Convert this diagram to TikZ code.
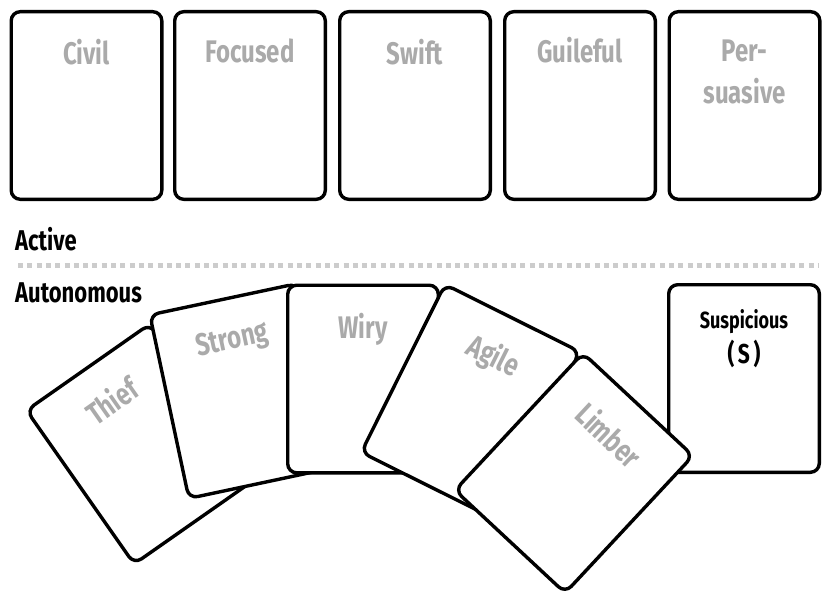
\documentclass[tikz,border=0pt]{standalone}
\usepackage{fontspec}
\setmainfont{Fira Sans}
\usetikzlibrary{calc}
\definecolor{lblgray}{HTML}{AAAAAA}
\definecolor{dashgray}{HTML}{CCCCCC}
\newcommand\tallt[1]{\scalebox{1}[1.3]{#1}}
\tikzset{
  card/.style={draw=black, line width=3.4pt, rounded corners=9pt, fill=white,
    minimum width=150.6pt, minimum height=187.6pt, inner sep=0pt},
  graylbl/.style={text=lblgray, font=\bfseries\fontsize{24}{30}\selectfont, inner sep=0pt},
  blacklbl/.style={text=black, font=\bfseries\fontsize{22}{24}\selectfont, inner sep=0pt},
  susplbl/.style={text=black, font=\bfseries\fontsize{18}{22}\selectfont, inner sep=0pt},
  sepline/.style={dashgray, line width=5pt, dash pattern=on 5pt off 4.3pt},
}
\begin{document}
\begin{tikzpicture}[x=1pt,y=1pt]
\useasboundingbox (0,0) rectangle (832,-602);

% top row
\node[card] (civil) at (86.5,-105.5) {};
\node[graylbl] (civillbl) at ($(civil.center)+(0,53)$) {\tallt{Civil}};
\node[card] (focused) at (250,-105.5) {};
\node[graylbl] (focusedlbl) at ($(focused.center)+(0,55)$) {\tallt{Focused}};
\node[card] (swift) at (415,-105.5) {};
\node[graylbl] (swiftlbl) at ($(swift.center)+(0,53)$) {\tallt{Swift}};
\node[card] (guileful) at (580,-105.5) {};
\node[graylbl] (guilefullbl) at ($(guileful.center)+(0,55)$) {\tallt{Guileful}};
\node[card] (persuasive) at (744.5,-105.5) {};
\node[graylbl, align=center, font=\bfseries\fontsize{24}{42}\selectfont] (persuasivelbl)
  at ($(persuasive.center)+(0,34)$) {\tallt{Per-}\\\tallt{suasive}};

% section labels and separator
\node[blacklbl, anchor=base west] (active) at (15,-250) {\tallt{Active}};
\coordinate (sepl) at (18,-265);
\coordinate (sepr) at (818,-265);
\draw[sepline] (sepl) -- (sepr);
\node[blacklbl, anchor=base west] (autonomous) at (15,-302) {\tallt{Autonomous}};

% bottom fan
\node[card, rotate=35] (thief) at (142,-444) {};
\node[graylbl, rotate=35] (thieflbl) at ($(thief.center)+(125:53)$) {\tallt{Thief}};
\node[card, rotate=12] (strong) at (243,-391) {};
\node[graylbl, rotate=12] (stronglbl) at ($(strong.center)+(102:51)$) {\tallt{Strong}};
\node[card] (wiry) at (363,-379) {};
\node[graylbl] (wirylbl) at ($(wiry.center)+(0,50)$) {\tallt{Wiry}};
\node[card, rotate=-26.5] (agile) at (470.5,-402) {};
\node[graylbl, rotate=-26.5] (agilelbl) at ($(agile.center)+(63.5:50)$) {\tallt{Agile}};
\node[card] (suspicious) at (744,-378.5) {};
\node[susplbl, anchor=base] (susplbla) at ($(suspicious.center)+(0,50)$) {\tallt{Suspicious}};
\node[susplbl, font=\bfseries\fontsize{21}{24}\selectfont, anchor=base] (susplblb)
  at ($(suspicious.center)+(0,15)$) {\tallt{(\,S\,)}};
\node[card, rotate=-43] (limber) at (574,-473) {};
\node[graylbl, rotate=-43] (limberlbl) at ($(limber.center)+(47:52)$) {\tallt{Limber}};
\end{tikzpicture}
\end{document}
